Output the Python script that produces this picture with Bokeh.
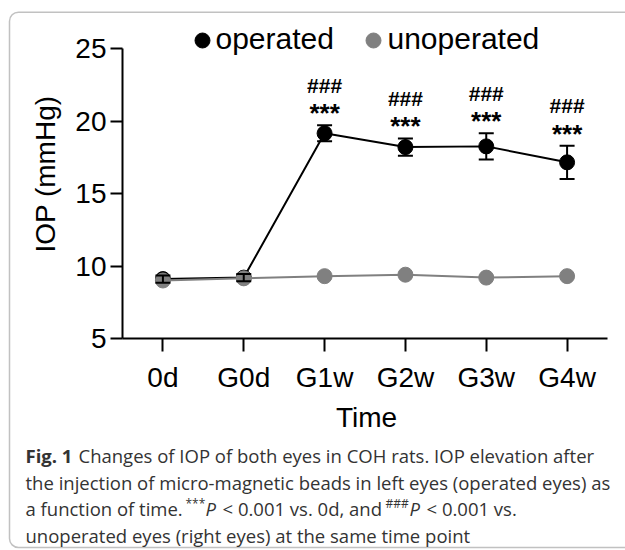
import math
from bokeh.plotting import figure
from bokeh.models import (Range1d, FixedTicker, ColumnDataSource,
                          Whisker, TeeHead, Label, BoxAnnotation)
from bokeh.core.properties import value
from bokeh.embed import file_html
from bokeh.resources import INLINE

# ---------------- data ----------------
categories = ["0d", "G0d", "G1w", "G2w", "G3w", "G4w"]
operated = [9.1, 9.2, 19.15, 18.2, 18.25, 17.15]
operated_sem = [0.25, 0.25, 0.55, 0.6, 0.9, 1.15]
unoperated = [9.0, 9.15, 9.3, 9.4, 9.2, 9.3]
star_marks = ["", "", "***", "***", "***", "***"]
hash_marks = ["", "", "###", "###", "###", "###"]
y_ticks = [5, 10, 15, 20, 25]
series_names = ["operated", "unoperated"]
series_colors = ["#000000", "#808080"]
y_title = "IOP (mmHg)"
x_title = "Time"
caption_bold = "Fig. 1"
caption_line1 = "Changes of IOP of both eyes in COH rats. IOP elevation after"
caption_line2 = "the injection of micro-magnetic beads in left eyes (operated eyes) as"
caption_line3 = ["a function of time.", "***", "P", "< 0.001 vs. 0d, and", "###", "P", "< 0.001 vs."]
caption_line4 = "unoperated eyes (right eyes) at the same time point"

# ---------------- geometry (canvas pixels) ----------------
FW, FH = 625, 550
AX_L, AX_R, AX_T, AX_B = 122, 607, 48, 338
Y_MIN, Y_MAX = 5, 25
n = len(categories)
xunit = (AX_R - AX_L) / n
x_start = -0.5 - AX_L / xunit
x_end = -0.5 + (FW - AX_L) / xunit
yunit = (AX_B - AX_T) / (Y_MAX - Y_MIN)
y_start = Y_MIN - (FH - AX_B) / yunit
y_end = Y_MIN + AX_B / yunit

p = figure(width=FW, height=FH,
           x_range=Range1d(x_start, x_end), y_range=Range1d(y_start, y_end),
           min_border_left=0, min_border_right=0,
           min_border_top=0, min_border_bottom=0,
           toolbar_location=None, output_backend="svg",
           outline_line_color=None, background_fill_color="white",
           border_fill_color="white")
p.extra_x_ranges = {"px": Range1d(0, FW)}
p.extra_y_ranges = {"px": Range1d(FH, 0)}
p.xgrid.visible = False
p.ygrid.visible = False

FONT = "Liberation Sans"
xpos = list(range(n))

# y axis (fixed inside the full-canvas frame)
p.yaxis.fixed_location = -0.5
p.yaxis.ticker = FixedTicker(ticks=y_ticks)
p.yaxis.bounds = (Y_MIN, Y_MAX)
p.yaxis.axis_line_width = 2
p.yaxis.major_tick_line_width = 2
p.yaxis.major_tick_out = 12
p.yaxis.major_tick_in = 0
p.yaxis.minor_tick_line_color = None
p.yaxis.major_label_text_font = FONT
p.yaxis.major_label_text_font_size = "28px"
p.yaxis.major_label_text_color = "black"
p.yaxis.major_label_standoff = 4

# x axis
p.xaxis.fixed_location = Y_MIN
p.xaxis.ticker = FixedTicker(ticks=xpos)
p.xaxis.major_label_overrides = {i: c for i, c in zip(xpos, categories)}
p.xaxis.bounds = (-0.5, n - 0.5)
p.xaxis.axis_line_width = 2
p.xaxis.major_tick_line_width = 2
p.xaxis.major_tick_out = 13
p.xaxis.major_tick_in = 0
p.xaxis.minor_tick_line_color = None
p.xaxis.major_label_text_font = FONT
p.xaxis.major_label_text_font_size = "28px"
p.xaxis.major_label_text_color = "black"
p.xaxis.major_label_standoff = 10

# ---------------- series ----------------
src = ColumnDataSource(dict(
    x=xpos,
    op=operated,
    upper=[m + s for m, s in zip(operated, operated_sem)],
    lower=[m - s for m, s in zip(operated, operated_sem)],
    un=unoperated,
    stars=star_marks,
    hashes=hash_marks,
))

p.line("x", "op", source=src, line_color=series_colors[0], line_width=2)
p.scatter("x", "op", source=src, size=15, fill_color=series_colors[0],
          line_color=series_colors[0])
p.line("x", "un", source=src, line_color=series_colors[1], line_width=2)
p.scatter("x", "un", source=src, size=15, fill_color=series_colors[1],
          line_color=series_colors[1])

wh = Whisker(base="x", upper="upper", lower="lower", source=src,
             dimension="height", line_width=2, line_color="black", level="overlay",
             upper_head=TeeHead(size=15, line_width=2, line_color="black"),
             lower_head=TeeHead(size=15, line_width=2, line_color="black"))
p.add_layout(wh)

p.text("x", "upper", text="stars", source=src, text_font=value(FONT),
       text_font_size=value("26px"), text_font_style="bold",
       text_align="center", text_baseline="middle", y_offset=-12,
       text_color="black")
p.text("x", "upper", text="hashes", source=src, text_font=value(FONT),
       text_font_size=value("21px"), text_font_style="bold",
       text_align="center", text_baseline="middle", y_offset=-40,
       text_color="black")

# ---------------- legend ----------------
leg_src = ColumnDataSource(dict(dot_x=[202, 373], dot_y=[40, 40],
                                color=series_colors))
p.scatter("dot_x", "dot_y", source=leg_src, size=15, fill_color="color",
          line_color="color", x_range_name="px", y_range_name="px")


def label(x, y_base, text, font=FONT, size=28, style="normal", color="black",
          align="left", angle=0.0, middle=None):
    # text is anchored on its middle; y_base is the wanted baseline
    y = middle if middle is not None else y_base - 0.35 * size
    p.add_layout(Label(x=x, y=y, x_units="canvas", y_units="canvas",
                       text=text, angle=angle, text_font=font,
                       text_font_size=f"{size}px", text_font_style=style,
                       text_color=color, text_align=align,
                       text_baseline="middle"))


label(215, 48.3, series_names[0], size=30)
label(387, 48.3, series_names[1], size=30)

# ---------------- axis titles ----------------
label(45, None, y_title, align="center", angle=math.pi / 2, middle=173.5)
label(366, 427, x_title, align="center")

# ---------------- caption ----------------
CAP_FONT = "Open Sans"
CAP_SIZE = 18.5
CAP_COLOR = "#333333"


def cap(x, y, text, style="normal", size=CAP_SIZE):
    label(x, y, text, font=CAP_FONT, size=size, style=style, color=CAP_COLOR)


cap(25, 461, caption_bold, style="bold")
cap(78, 461, caption_line1)
cap(25, 488, caption_line2)
cap(25, 514, caption_line3[0])
cap(185, 507, caption_line3[1], size=12)
cap(205, 514, caption_line3[2], style="italic")
cap(222, 514, caption_line3[3])
cap(385, 507, caption_line3[4], size=12)
cap(409, 514, caption_line3[5], style="italic")
cap(426, 514, caption_line3[6])
cap(25, 541, caption_line4)

# ---------------- border box ----------------
box = BoxAnnotation(left=9, right=700, top=11.7, bottom=547,
                    left_units="canvas", right_units="canvas",
                    top_units="canvas", bottom_units="canvas",
                    fill_color=None, line_color="#333333", line_width=1.5,
                    border_radius=9, level="underlay")
p.add_layout(box)

open("out.html", "w").write(file_html(p, INLINE))
